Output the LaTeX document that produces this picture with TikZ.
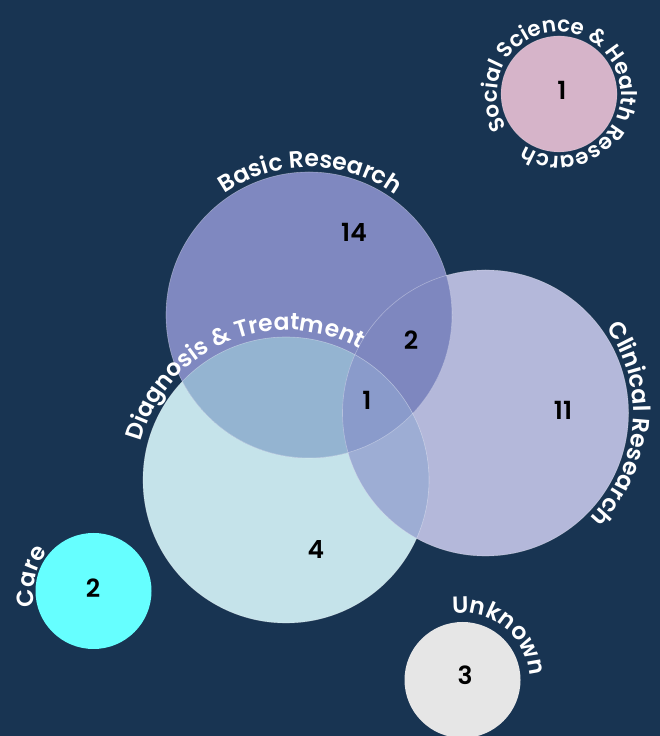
\documentclass[tikz,border=0pt]{standalone}
\usepackage{fontspec}
\setmainfont{Poppins}[UprightFont=* Medium, BoldFont=* SemiBold]
\usetikzlibrary{calc}
\definecolor{bg}{HTML}{183452}
\definecolor{basicc}{HTML}{7F88C0}
\definecolor{clinc}{HTML}{B4B8DA}
\definecolor{diagc}{HTML}{C5E3EA}
\definecolor{bdc}{HTML}{94B4D1}
\definecolor{bcc}{HTML}{7E87BF}
\definecolor{cdc}{HTML}{9DADD4}
\definecolor{triplec}{HTML}{8A9BCB}
\definecolor{socialc}{HTML}{D6B4C9}
\definecolor{carec}{HTML}{66FFFF}
\definecolor{unkc}{HTML}{E6E6E6}
\newcommand\labsize{23.5bp}
\newcommand\labfont{\fontsize{\labsize}{28bp}\selectfont\bfseries}
\newcommand\numfont{\fontsize{25bp}{30bp}\selectfont\bfseries}
\newdimen\arcw
\newdimen\arcwc
\newbox\arcbox
\tikzset{
  num/.style={text=black, font=\numfont, inner sep=0pt},
  lab/.style={text=white, font=\labfont, inner sep=0pt, anchor=base},
  rim/.style={draw=white, draw opacity=0.35, line width=0.6bp},
}
\newcommand\measurech[1]{%
  \pgfinterruptpicture
    \global\setbox\arcbox=\hbox{\normalfont\labfont #1}%
  \endpgfinterruptpicture
  \global\arcwc=\wd\arcbox}
% #1 centre coordinate, #2 baseline radius (bp), #3 middle angle, #4 comma list of characters
\newcommand\arclabel[4]{%
  \global\arcw=0pt
  \foreach \ch in {#4}{\measurech{\ch}\global\advance\arcw by \arcwc}%
  \pgfmathsetmacro\curang{#3 + \the\arcw*0.99626/#2*28.64789}%
  \xdef\curang{\curang}%
  \foreach \ch [count=\i] in {#4}{%
    \measurech{\ch}%
    \pgfmathsetmacro\chang{\curang - \the\arcwc*0.99626/#2*28.64789}%
    \node[lab, rotate=\chang-90] (#1-l\i) at ($(#1)+(\chang:#2)$) {\ch};
    \pgfmathsetmacro\newang{\curang - \the\arcwc*0.99626/#2*57.29578}%
    \xdef\curang{\newang}%
  }%
}
\begin{document}
\begin{tikzpicture}[x=1bp,y=1bp]
\useasboundingbox (0,0) rectangle (660,736);
\fill[bg] (0,0) rectangle (660,736);
\coordinate (social) at (559,642);
\coordinate (basic) at (309,421);
\coordinate (clin) at (485.5,323);
\coordinate (diag) at (286,256);
\coordinate (care) at (93.5,145);
\coordinate (unk) at (462.5,56);
% big circles
\fill[diagc] (diag) circle[radius=143];
\fill[clinc] (clin) circle[radius=143];
\fill[basicc] (basic) circle[radius=143];
\begin{scope}
  \clip (basic) circle[radius=143];
  \fill[bdc] (diag) circle[radius=143];
  \fill[bcc] (clin) circle[radius=143];
\end{scope}
\begin{scope}
  \clip (clin) circle[radius=143];
  \fill[cdc] (diag) circle[radius=143];
\end{scope}
\begin{scope}
  \clip (basic) circle[radius=143];
  \clip (clin) circle[radius=143];
  \fill[triplec] (diag) circle[radius=143];
\end{scope}
\path[rim] (diag) circle[radius=143];
\path[rim] (clin) circle[radius=143];
\path[rim] (basic) circle[radius=143];
% small circles
\fill[socialc] (social) circle[radius=58];
\path[rim, draw opacity=0.25] (social) circle[radius=58];
\fill[carec] (care) circle[radius=58];
\fill[unkc] (unk) circle[radius=58];
% labels
\arclabel{basic}{148}{89.5}{B,a,s,i,c,~,R,e,s,e,a,r,c,h}
\arclabel{diag}{150}{113}{D,i,a,g,n,o,s,i,s,~,\&,~,T,r,e,a,t,m,e,n,t}
\arclabel{clin}{148}{-5}{C,l,i,n,i,c,a,l,~,R,e,s,e,a,r,c,h}
{\renewcommand\labsize{21.5bp}%
\arclabel{social}{62}{45}{S,o,c,i,a,l,~,S,c,i,e,n,c,e,~,\&,~,H,e,a,l,t,h,~,R,e,s,e,a,r,c,h}}
\arclabel{care}{60}{167}{C,a,r,e}
\arclabel{unk}{67}{51}{U,n,k,n,o,w,n}
% numbers
\node[num] (n1) at (562,646) {1};
\node[num] (n14) at (354,504) {14};
\node[num] (n2) at (411,396) {2};
\node[num] (n1b) at (367,336) {1};
\node[num] (n11) at (563,326) {11};
\node[num] (n4) at (316,186) {4};
\node[num] (n2c) at (93,148) {2};
\node[num] (n3) at (465,61) {3};
\end{tikzpicture}
\end{document}
